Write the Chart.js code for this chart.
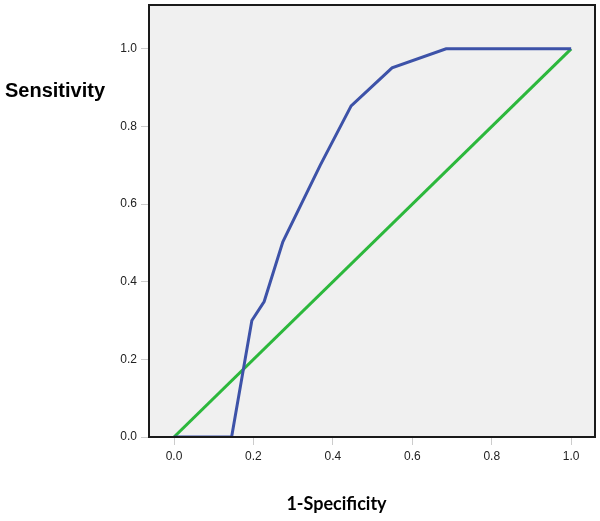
<!DOCTYPE html>
<html>
<head>
<meta charset="utf-8">
<script src="https://cdn.jsdelivr.net/npm/chart.js@4/dist/chart.umd.min.js"></script>
<style>
html,body{margin:0;padding:0;background:#fff;}
#wrap{width:600px;height:521px;position:relative;}
</style>
</head>
<body>
<div id="wrap"><canvas id="c" width="600" height="521"></canvas></div>
<script>
// ROC curve points (1-Specificity, Sensitivity)
const rocFpr = [0.0, 0.145, 0.196, 0.227, 0.274, 0.368, 0.446, 0.549, 0.685, 1.0];
const rocTpr = [0.0, 0.0, 0.30, 0.349, 0.503, 0.70, 0.853, 0.951, 1.0, 1.0];
// Reference (chance) line
const refX = [0.0, 1.0];
const refY = [0.0, 1.0];
const xTickValues = [0.0, 0.2, 0.4, 0.6, 0.8, 1.0];
const yTickValues = [0.0, 0.2, 0.4, 0.6, 0.8, 1.0];
const xTitle = '1-Specificity';
const yTitle = 'Sensitivity';

const toPts = (xs, ys) => xs.map((x, i) => ({x: x, y: ys[i]}));

const framePlugin = {
  id: 'frame',
  beforeDatasetsDraw(chart) {
    const {ctx, chartArea: a} = chart;
    ctx.save();
    ctx.fillStyle = '#f0f0f0';
    ctx.fillRect(a.left, a.top, a.right - a.left, a.bottom - a.top);
    ctx.restore();
  },
  afterDatasetsDraw(chart) {
    const {ctx, chartArea: a} = chart;
    ctx.save();
    ctx.strokeStyle = '#1a1a1a';
    ctx.lineWidth = 2;
    ctx.strokeRect(a.left, a.top, a.right - a.left, a.bottom - a.top);
    ctx.restore();
  },
  afterDraw(chart) {
    const {ctx, chartArea: a} = chart;
    ctx.save();
    ctx.fillStyle = '#000';
    ctx.textBaseline = 'alphabetic';
    ctx.textAlign = 'left';
    ctx.font = 'bold 20px "Liberation Sans", Arial, sans-serif';
    ctx.fillText(yTitle, 5, 97);
    ctx.textAlign = 'center';
    ctx.font = 'bold 18px Lato, "Open Sans", sans-serif';
    ctx.fillText(xTitle, 336.5, 510);
    ctx.restore();
  }
};

new Chart(document.getElementById('c'), {
  type: 'scatter',
  data: {
    datasets: [
      {
        data: toPts(rocFpr, rocTpr),
        showLine: true,
        borderColor: '#3d52a8',
        borderWidth: 3,
        pointRadius: 0,
        tension: 0,
        fill: false
      },
      {
        data: toPts(refX, refY),
        showLine: true,
        borderColor: '#2cb83c',
        borderWidth: 3,
        pointRadius: 0,
        tension: 0,
        fill: false
      }
    ]
  },
  options: {
    responsive: false,
    animation: false,
    events: [],
    layout: {padding: {top: 5, right: 5, left: 0, bottom: 0}},
    plugins: {legend: {display: false}, tooltip: {enabled: false}},
    scales: {
      x: {
        type: 'linear',
        min: -0.063,
        max: 1.06,
        afterBuildTicks(scale) { scale.ticks = xTickValues.map(v => ({value: v})); },
        afterFit(scale) { scale.height = 84; scale.paddingLeft = 0; scale.paddingRight = 0; },
        grid: {drawOnChartArea: false, drawTicks: true, tickLength: 8, tickColor: '#cccccc', color: '#cccccc'},
        border: {display: false},
        ticks: {
          color: '#222',
          padding: 4,
          font: {family: '"Liberation Sans", Arial, sans-serif', size: 12},
          maxRotation: 0,
          callback: v => Number(v).toFixed(1)
        }
      },
      y: {
        type: 'linear',
        min: 0,
        max: 1.113,
        afterBuildTicks(scale) { scale.ticks = yTickValues.map(v => ({value: v})); },
        afterFit(scale) { scale.width = 149; scale.paddingTop = 0; scale.paddingBottom = 0; },
        grid: {drawOnChartArea: false, drawTicks: true, tickLength: 8, tickColor: '#cccccc', color: '#cccccc'},
        border: {display: false},
        ticks: {
          color: '#222',
          padding: 4,
          font: {family: '"Liberation Sans", Arial, sans-serif', size: 12},
          callback: v => Number(v).toFixed(1)
        }
      }
    }
  },
  plugins: [framePlugin]
});
</script>
</body>
</html>
